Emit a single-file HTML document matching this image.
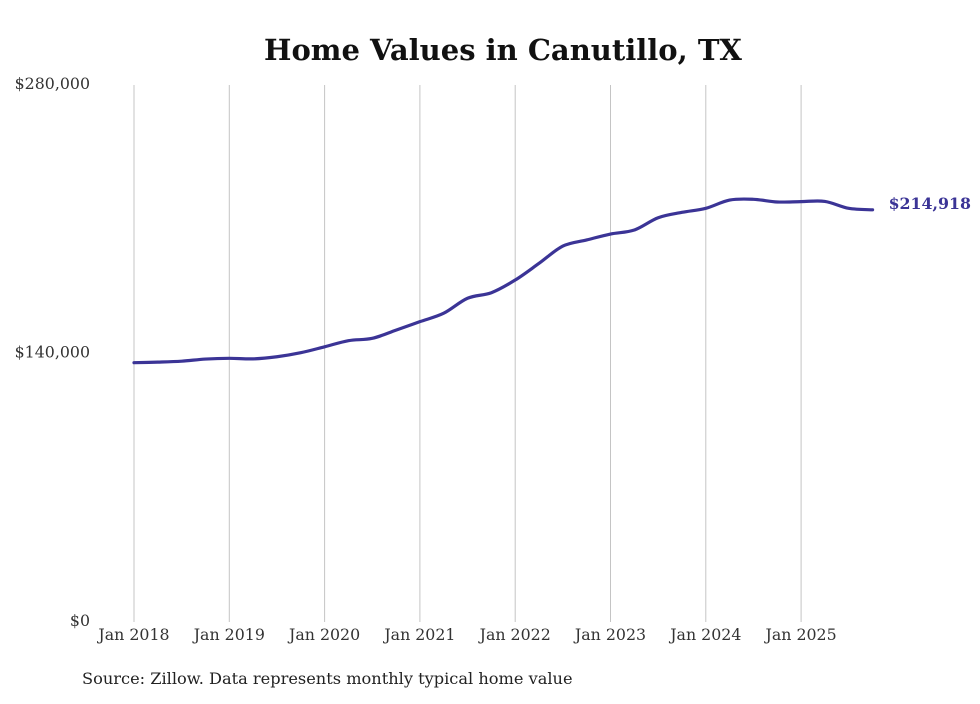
<!DOCTYPE html>
<html><head><meta charset="utf-8"><style>
body{margin:0;background:#fff;}
svg text{font-family:"DejaVu Serif","Liberation Serif",serif;}
</style></head><body>
<svg id="chart" width="980" height="699" viewBox="0 0 980 699" xmlns="http://www.w3.org/2000/svg">
<rect width="980" height="699" fill="#fff"/>
<text x="503" y="60" text-anchor="middle" font-size="29" font-weight="bold" fill="#111">Home Values in Canutillo, TX</text>
<g id="grid"></g><g id="yaxis"></g><g id="xaxis"></g><g id="series"></g>
<text x="82" y="684" font-size="16.2" fill="#222">Source: Zillow. Data represents monthly typical home value</text>
</svg>
<script>
const dates=[2018,2018.25,2018.5,2018.75,2019,2019.25,2019.5,2019.75,2020,2020.25,2020.5,2020.75,2021,2021.25,2021.5,2021.75,2022,2022.25,2022.5,2022.75,2023,2023.25,2023.5,2023.75,2024,2024.25,2024.5,2024.75,2025,2025.25,2025.5,2025.75];
const values=[135200,135500,136000,137100,137500,137200,138300,140400,143500,146700,147900,152200,156600,161000,168800,171700,178300,187000,196000,199200,202300,204400,210800,213600,215700,220000,220400,219000,219200,219300,215700,214918];
const yTicks=[0,140000,280000];
const yTickLabels=["$0","$140,000","$280,000"];
const xTicks=[2018,2019,2020,2021,2022,2023,2024,2025];
const xTickLabels=["Jan 2018","Jan 2019","Jan 2020","Jan 2021","Jan 2022","Jan 2023","Jan 2024","Jan 2025"];
const endLabel="$214,918";
const NS="http://www.w3.org/2000/svg";
const x=d=>134+(d-2018)*95.3;
const y=v=>622-v/280000*537;
function mk(tag,attrs,parent){const e=document.createElementNS(NS,tag);for(const k in attrs)e.setAttribute(k,attrs[k]);parent.appendChild(e);return e;}
const grid=document.getElementById('grid'),ya=document.getElementById('yaxis'),xa=document.getElementById('xaxis'),se=document.getElementById('series');
xTicks.forEach((t,i)=>{
  const l=mk('line',{x1:x(t),x2:x(t),y1:85,y2:622,stroke:'#c4c4c4','stroke-width':1},grid);
  
  
  const tx=mk('text',{x:x(t),y:640,'text-anchor':'middle','font-size':15.8,fill:'#333'},xa);
  tx.textContent=xTickLabels[i];
  
  
});
yTicks.forEach((t,i)=>{
  const tx=mk('text',{x:90,y:y(t)+4,'text-anchor':'end','font-size':15.8,fill:'#333'},ya);
  tx.textContent=yTickLabels[i];
  
  
});
const pts=dates.map((d,i)=>[x(d),y(values[i])]);
let p='M'+pts[0][0]+','+pts[0][1];
for(let i=0;i<pts.length-1;i++){
  const p0=pts[i-1]||pts[i],p1=pts[i],p2=pts[i+1],p3=pts[i+2]||p2;
  const c1=[p1[0]+(p2[0]-p0[0])/6,p1[1]+(p2[1]-p0[1])/6];
  const c2=[p2[0]-(p3[0]-p1[0])/6,p2[1]-(p3[1]-p1[1])/6];
  p+=' C'+c1+' '+c2+' '+p2;
}
const path=mk('path',{d:p,fill:'none',stroke:'#3b3496','stroke-width':3.2,'stroke-linejoin':'round','stroke-linecap':'round'},se);


const last=pts[pts.length-1];
const el=mk('text',{x:last[0]+16,y:last[1]-1,'font-size':15.8,'font-weight':'bold',fill:'#3b3496'},se);
el.textContent=endLabel;


</script>
</body></html>
